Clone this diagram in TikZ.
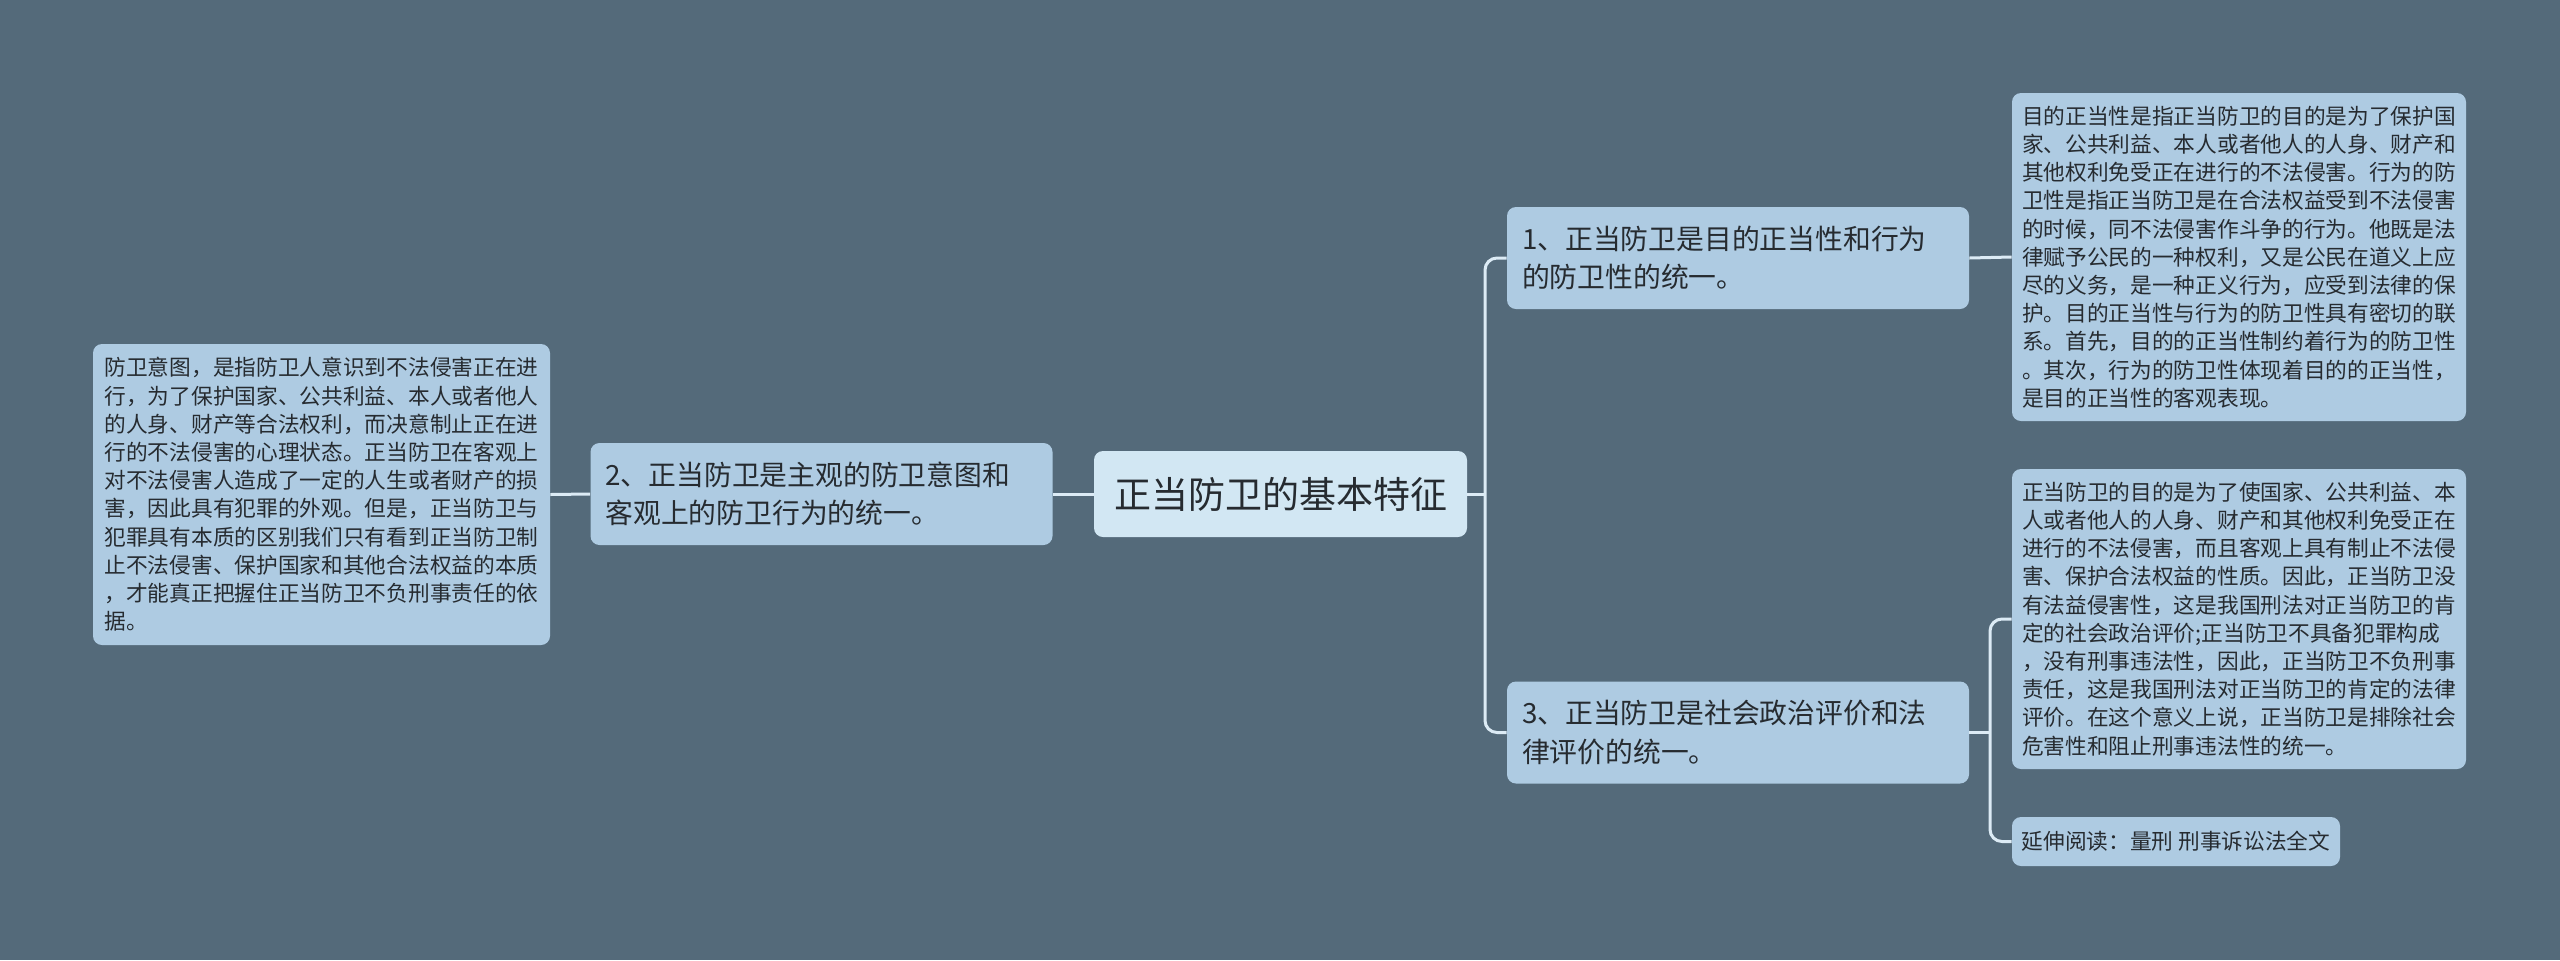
\documentclass[tikz,border=0pt]{standalone}
\usepackage{fontspec}
\newfontfamily\cjk{Noto Sans CJK SC}
\definecolor{bgcol}{HTML}{546A7A}
\definecolor{boxcol}{HTML}{AECBE2}
\definecolor{rootcol}{HTML}{D2E7F3}
\definecolor{linecol}{HTML}{DCEBF5}
\definecolor{txtcol}{HTML}{262B30}
\tikzset{
  base/.style={rounded corners=4.5pt, fill=boxcol, text=txtcol, inner sep=0pt, align=left},
  rootbox/.style={base, fill=rootcol, align=center, minimum width=186.5pt, minimum height=43pt,
    font=\cjk\fontsize{18.5pt}{22pt}\selectfont},
  topic/.style={base, minimum width=231pt, minimum height=51pt, text width=216pt,
    font=\cjk\fontsize{13.9pt}{19.3pt}\selectfont},
  detail/.style={base, text width=217pt, font=\cjk\fontsize{10.85pt}{14.1pt}\selectfont},
  conn/.style={draw=linecol, line width=1.5pt},
}
\begin{document}
\begin{tikzpicture}[x=0.5pt, y=-0.5pt]
\fill[bgcol] (0,0) rectangle (2560,960);
\useasboundingbox (0,0) rectangle (2560,960);

\node[rootbox] (root) at (1280.5,494) {正当防卫的基本特征};

\node[topic] (b1) at (1738,258) {1、正当防卫是目的正当性和行为\\的防卫性的统一。};
\node[topic] (b2) at (821.5,494) {2、正当防卫是主观的防卫意图和\\客观上的防卫行为的统一。};
\node[topic] (b3) at (1738,732.5) {3、正当防卫是社会政治评价和法\\律评价的统一。};

\node[detail, minimum width=228.5pt, minimum height=150.5pt] (dl) at (321.5,494.5) {防卫意图，是指防卫人意识到不法侵害正在进\\行，为了保护国家、公共利益、本人或者他人\\的人身、财产等合法权利，而决意制止正在进\\行的不法侵害的心理状态。正当防卫在客观上\\对不法侵害人造成了一定的人生或者财产的损\\害，因此具有犯罪的外观。但是，正当防卫与\\犯罪具有本质的区别我们只有看到正当防卫制\\止不法侵害、保护国家和其他合法权益的本质\\，才能真正把握住正当防卫不负刑事责任的依\\据。};

\node[detail, minimum width=227pt, minimum height=164pt] (d1) at (2239,257) {目的正当性是指正当防卫的目的是为了保护国\\家、公共利益、本人或者他人的人身、财产和\\其他权利免受正在进行的不法侵害。行为的防\\卫性是指正当防卫是在合法权益受到不法侵害\\的时候，同不法侵害作斗争的行为。他既是法\\律赋予公民的一种权利，又是公民在道义上应\\尽的义务，是一种正义行为，应受到法律的保\\护。目的正当性与行为的防卫性具有密切的联\\系。首先，目的的正当性制约着行为的防卫性\\。其次，行为的防卫性体现着目的的正当性，\\是目的正当性的客观表现。};

\node[detail, minimum width=227pt, minimum height=150pt] (d2) at (2239,619) {正当防卫的目的是为了使国家、公共利益、本\\人或者他人的人身、财产和其他权利免受正在\\进行的不法侵害，而且客观上具有制止不法侵\\害、保护合法权益的性质。因此，正当防卫没\\有法益侵害性，这是我国刑法对正当防卫的肯\\定的社会政治评价;正当防卫不具备犯罪构成\\，没有刑事违法性，因此，正当防卫不负刑事\\责任，这是我国刑法对正当防卫的肯定的法律\\评价。在这个意义上说，正当防卫是排除社会\\危害性和阻止刑事违法性的统一。};

\node[base, align=center, minimum width=164pt, minimum height=24.5pt, font=\cjk\fontsize{10.85pt}{14.1pt}\selectfont] (ext) at (2176,841.5) {延伸阅读：量刑 刑事诉讼法全文};

\coordinate (j1) at (1485,494);
\coordinate (j3) at (1990,732.5);

\draw[conn] (root.east) -- (j1);
\draw[conn, rounded corners=6pt] (b1.west) -| (j1) |- (b3.west);
\draw[conn] (root.west) -- (b2.east);
\draw[conn] (b2.west) -- (dl.east);
\draw[conn] (b1.east) -- (d1.west);
\draw[conn] (b3.east) -- (j3);
\draw[conn, rounded corners=6pt] (d2.west) -| (j3) |- (ext.west);
\end{tikzpicture}
\end{document}
